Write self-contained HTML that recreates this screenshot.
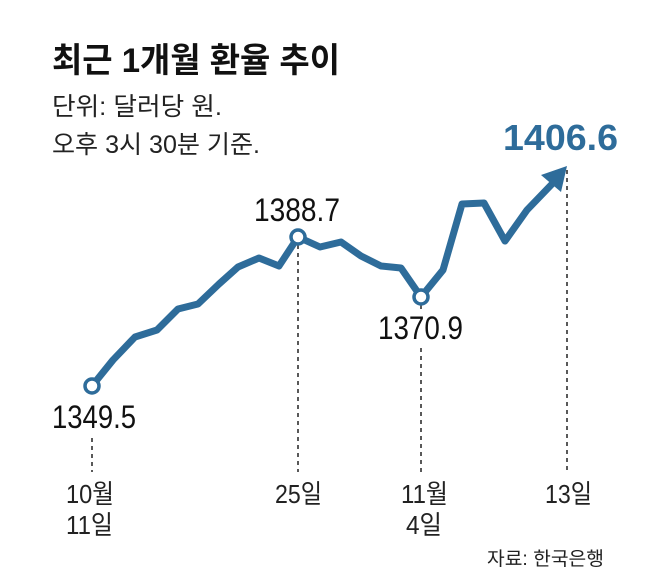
<!DOCTYPE html>
<html><head><meta charset="utf-8"><style>
html,body{margin:0;padding:0;background:#fff}
svg{display:block}
text{font-family:"Liberation Sans","Noto Sans CJK KR",sans-serif}
</style></head><body>
<svg width="658" height="586" viewBox="0 0 658 586" xmlns="http://www.w3.org/2000/svg">
<text x="52" y="72" font-size="34" font-weight="bold" fill="#111" textLength="288" lengthAdjust="spacingAndGlyphs">최근 1개월 환율 추이</text>
<text x="52" y="115" font-size="25" fill="#222" textLength="170" lengthAdjust="spacingAndGlyphs">단위: 달러당 원.</text>
<text x="52" y="153" font-size="25" fill="#222" textLength="208" lengthAdjust="spacingAndGlyphs">오후 3시 30분 기준.</text>
<g stroke="#222" stroke-width="1.5" stroke-dasharray="4,4" fill="none">
<line x1="92" y1="438" x2="92" y2="472"/>
<line x1="298" y1="245" x2="298" y2="472"/>
<line x1="421" y1="305" x2="421" y2="310"/>
<line x1="421" y1="348" x2="421" y2="472"/>
<line x1="567" y1="170" x2="567" y2="472"/>
</g>
<polyline points="92,386 113,360 135,337 157,330 178,309 198,304 219,284 238,267 259,258 279,266 298,237 320,247 341,242 361,256 381,266 401,268 421,297 443,270 462,204 484,203 505,241 527,210 553,183" fill="none" stroke="#2e6c9a" stroke-width="7" stroke-linejoin="round" stroke-linecap="round"/>
<polygon points="567,166 541,175 561,192" fill="#2e6c9a"/>
<g fill="#fff" stroke="#2e6c9a" stroke-width="3.5">
<circle cx="92" cy="386" r="7"/>
<circle cx="298" cy="237" r="7"/>
<circle cx="421" cy="297" r="7"/>
</g>
<g font-size="32" fill="#111">
<text x="52" y="428" textLength="84" lengthAdjust="spacingAndGlyphs">1349.5</text>
<text x="254" y="221" textLength="86" lengthAdjust="spacingAndGlyphs">1388.7</text>
<text x="378" y="339" textLength="85" lengthAdjust="spacingAndGlyphs">1370.9</text>
</g>
<text x="503" y="150" font-size="36" font-weight="bold" fill="#2e6c9a" textLength="115" lengthAdjust="spacingAndGlyphs">1406.6</text>
<g font-size="26" fill="#222">
<text x="66" y="503" textLength="48" lengthAdjust="spacingAndGlyphs">10월</text>
<text x="66" y="534" textLength="47" lengthAdjust="spacingAndGlyphs">11일</text>
<text x="275" y="503" textLength="47" lengthAdjust="spacingAndGlyphs">25일</text>
<text x="401" y="503" textLength="47" lengthAdjust="spacingAndGlyphs">11월</text>
<text x="406" y="534" textLength="36" lengthAdjust="spacingAndGlyphs">4일</text>
<text x="545" y="503" textLength="47" lengthAdjust="spacingAndGlyphs">13일</text>
</g>
<text x="487" y="565" font-size="19" fill="#222" textLength="117" lengthAdjust="spacingAndGlyphs">자료: 한국은행</text>
</svg>
</body></html>
